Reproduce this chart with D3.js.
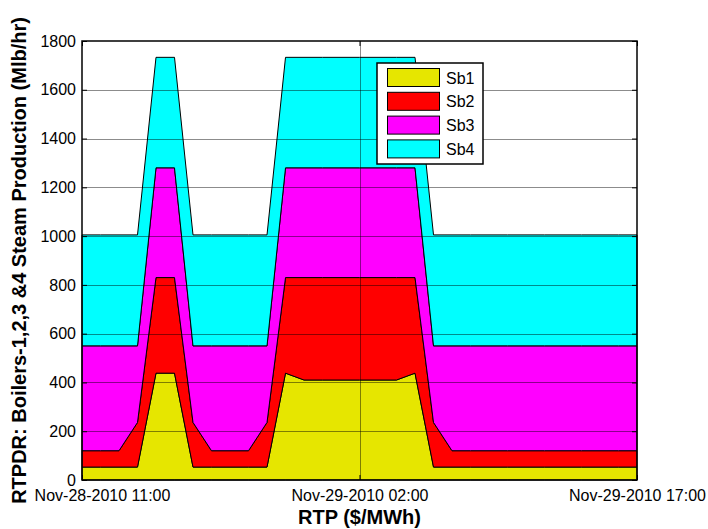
<!DOCTYPE html>
<html>
<head>
<meta charset="utf-8">
<script src="https://cdn.jsdelivr.net/npm/d3@7"></script>
<style>
  html, body { margin: 0; padding: 0; background: #fff; }
  svg { display: block; font-family: "Liberation Sans", Arial, sans-serif; }
</style>
</head>
<body>
<svg id="chart" width="708" height="529"></svg>
<script>
// Hourly steam production per boiler (Mlb/hr), starting Nov-28-2010 11:00
const hours = d3.range(0, 31);
const seriesNames = ["Sb1", "Sb2", "Sb3", "Sb4"];
const sb1 = [53, 53, 53, 53, 438, 438, 53, 53, 53, 53, 53, 438, 410, 410, 410, 410, 410, 410, 438, 53, 53, 53, 53, 53, 53, 53, 53, 53, 53, 53, 53];
const sb2 = [67, 67, 67, 183, 392, 392, 183, 67, 67, 67, 183, 392, 420, 420, 420, 420, 420, 420, 392, 183, 67, 67, 67, 67, 67, 67, 67, 67, 67, 67, 67];
const sb3 = [430, 430, 430, 314, 450, 450, 314, 430, 430, 430, 314, 450, 450, 450, 450, 450, 450, 450, 450, 314, 430, 430, 430, 430, 430, 430, 430, 430, 430, 430, 430];
const sb4 = [455, 455, 455, 455, 453, 453, 455, 455, 455, 455, 455, 453, 453, 453, 453, 453, 453, 453, 453, 455, 455, 455, 455, 455, 455, 455, 455, 455, 455, 455, 455];
const colors = ["#e6e600", "#ff0000", "#ff00ff", "#00ffff"];
const yTicks = [0, 200, 400, 600, 800, 1000, 1200, 1400, 1600, 1800];
const xTickHours = [0, 15, 30];

const startTime = Date.UTC(2010, 10, 28, 11);
const toDate = h => new Date(startTime + h * 3600e3);

const rows = hours.map((h, i) => ({
  t: toDate(h), Sb1: sb1[i], Sb2: sb2[i], Sb3: sb3[i], Sb4: sb4[i]
}));

const svg = d3.select("#chart");
const m = { left: 82, right: 637, top: 41, bottom: 480 };

const x = d3.scaleUtc().domain([toDate(0), toDate(30)]).range([m.left, m.right]);
const y = d3.scaleLinear().domain([0, 1800]).range([m.bottom, m.top]);

const layers = d3.stack().keys(seriesNames)(rows);
const area = d3.area()
  .x(d => x(d.data.t))
  .y0(d => y(d[0]))
  .y1(d => y(d[1]));

// stacked areas with black outlines
svg.append("g").selectAll("path").data(layers).join("path")
  .attr("d", area)
  .attr("fill", (d, i) => colors[i])
  .attr("stroke", "#000")
  .attr("stroke-width", 1)
  .attr("stroke-linejoin", "miter");

// grid drawn above the areas
const grid = svg.append("g").attr("stroke", "#000").attr("stroke-opacity", 0.45).attr("stroke-width", 1);
yTicks.slice(1, -1).forEach(v => {
  grid.append("line")
    .attr("x1", m.left).attr("x2", m.right)
    .attr("y1", Math.round(y(v)) + 0.5).attr("y2", Math.round(y(v)) + 0.5);
});
xTickHours.slice(1, -1).forEach(h => {
  grid.append("line")
    .attr("x1", Math.round(x(toDate(h))) + 0.5).attr("x2", Math.round(x(toDate(h))) + 0.5)
    .attr("y1", m.top).attr("y2", m.bottom);
});

// axes with inward ticks
const fmt = d3.utcFormat("%b-%d-%Y %H:%M");
const xAxis = d3.axisBottom(x).tickValues(xTickHours.map(toDate)).tickFormat(fmt).tickSizeInner(-5).tickSizeOuter(0).tickPadding(10);
const xAxisTop = d3.axisTop(x).tickValues(xTickHours.map(toDate)).tickFormat("").tickSizeInner(-5).tickSizeOuter(0);
const yAxis = d3.axisLeft(y).tickValues(yTicks).tickFormat(d3.format("d")).tickSizeInner(-5).tickSizeOuter(0).tickPadding(6);
const yAxisRight = d3.axisRight(y).tickValues(yTicks).tickFormat("").tickSizeInner(-5).tickSizeOuter(0);

function style(g) {
  g.select(".domain").remove();
  g.selectAll("line").attr("stroke", "#000");
  g.selectAll("text").attr("fill", "#000").attr("font-size", 16).attr("font-family", "Liberation Sans, Arial, sans-serif");
}
const gx = svg.append("g").attr("transform", `translate(0,${m.bottom})`).call(xAxis).call(style);
// first date label sits to the right of its tick, clear of the y title
gx.selectAll(".tick text").filter((d, i) => i === 0).attr("dx", 20);
svg.append("g").attr("transform", `translate(0,${m.top})`).call(xAxisTop).call(style);
svg.append("g").attr("transform", `translate(${m.left},0)`).call(yAxis).call(style);
svg.append("g").attr("transform", `translate(${m.right},0)`).call(yAxisRight).call(style);

// plot frame
svg.append("rect")
  .attr("x", m.left).attr("y", m.top)
  .attr("width", m.right - m.left).attr("height", m.bottom - m.top)
  .attr("fill", "none").attr("stroke", "#000").attr("stroke-width", 1.5);

// axis titles
svg.append("text")
  .attr("x", (m.left + m.right) / 2).attr("y", 524)
  .attr("text-anchor", "middle")
  .attr("font-size", 20).attr("font-weight", "bold")
  .text("RTP ($/MWh)");
svg.append("text")
  .attr("transform", `translate(26,${(m.top + m.bottom) / 2}) rotate(-90)`)
  .attr("text-anchor", "middle")
  .attr("font-size", 20).attr("font-weight", "bold")
  .text("RTPDR: Boilers-1,2,3 &4 Steam Production (Mlb/hr)");

// legend
const lg = svg.append("g").attr("transform", "translate(377,63)");
lg.append("rect").attr("width", 106).attr("height", 101)
  .attr("fill", "#fff").attr("stroke", "#000").attr("stroke-width", 1.5);
seriesNames.forEach((name, i) => {
  lg.append("rect")
    .attr("x", 10.5).attr("y", 5.5 + i * 23.8)
    .attr("width", 52).attr("height", 18)
    .attr("fill", colors[i]).attr("stroke", "#000").attr("stroke-width", 1);
  lg.append("text")
    .attr("x", 69).attr("y", 20.5 + i * 23.8)
    .attr("font-size", 16)
    .text(name);
});
</script>
</body>
</html>
